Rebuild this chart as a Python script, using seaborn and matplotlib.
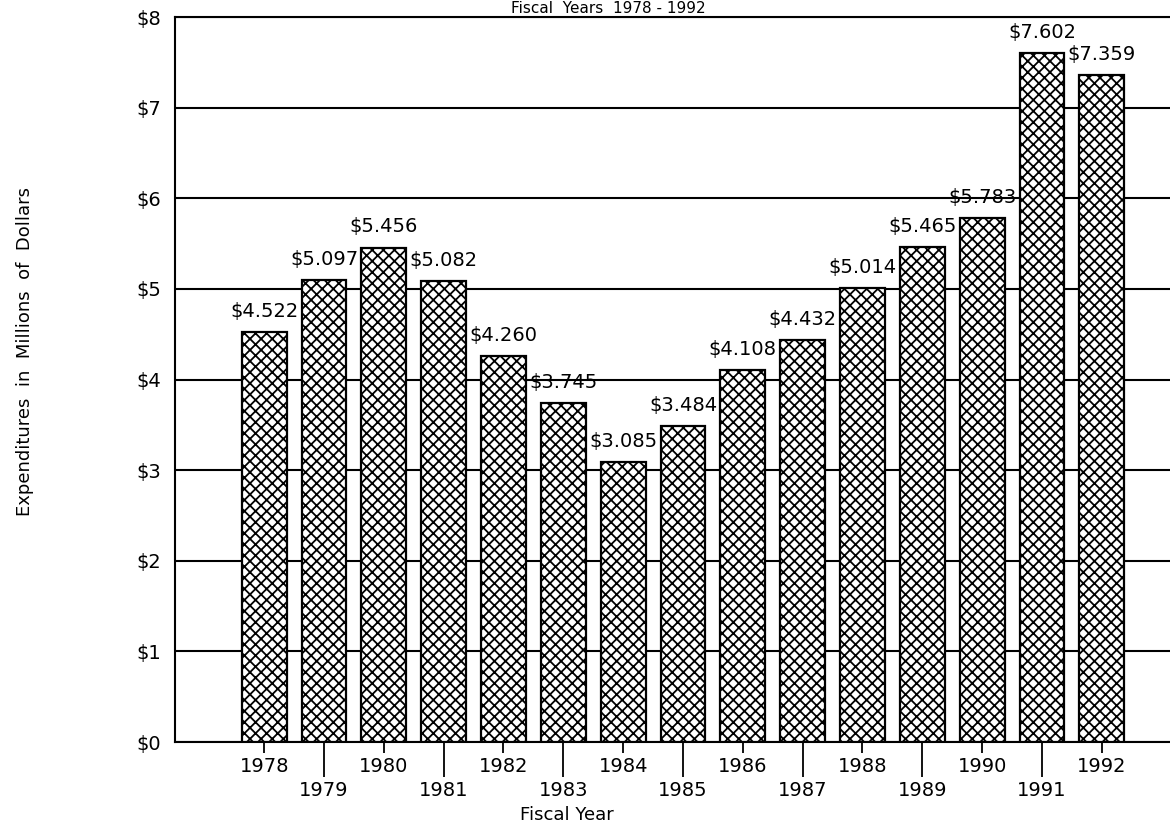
import matplotlib
matplotlib.use('Agg')
import matplotlib.pyplot as plt
import seaborn as sns
import pandas as pd

years = [1978, 1979, 1980, 1981, 1982, 1983, 1984, 1985,
         1986, 1987, 1988, 1989, 1990, 1991, 1992]
spending = [4.522, 5.097, 5.456, 5.082, 4.260, 3.745, 3.085, 3.484,
            4.108, 4.432, 5.014, 5.465, 5.783, 7.602, 7.359]
y_ticks = [0, 1, 2, 3, 4, 5, 6, 7, 8]

df = pd.DataFrame({'Year': [str(y) for y in years], 'Spending': spending})

sns.set_style('white')
plt.rcParams['font.family'] = ['DejaVu Sans']
plt.rcParams['text.color'] = 'black'
plt.rcParams['xtick.color'] = 'black'
plt.rcParams['ytick.color'] = 'black'
plt.rcParams['hatch.linewidth'] = 1.3
plt.rcParams['hatch.color'] = 'black'

fig = plt.figure(figsize=(11.7, 8.23), dpi=100)
ax = fig.add_axes([0.1496, 0.0984, 0.8504, 0.8809])

sns.barplot(data=df, x='Year', y='Spending', color='white', edgecolor='black',
            linewidth=1.6, width=0.75, saturation=1, ax=ax, zorder=3)
for p in ax.patches:
    p.set_hatch('xxx')
    p.set_facecolor('white')

ax.bar_label(ax.containers[0], labels=['${:.3f}'.format(v) for v in spending],
             padding=8, fontsize=14, color='black', zorder=4)

# y axis
ax.set_ylim(0, 8)
ax.set_yticks(y_ticks, labels=['${}'.format(t) for t in y_ticks], fontsize=14)
ax.tick_params(axis='y', length=0, pad=10)
ax.yaxis.grid(True, color='black', linewidth=1.5)
ax.set_axisbelow(True)

# staggered x tick labels: even years close, odd years lower with long ticks
pos = list(range(len(years)))
ax.set_xticks(pos[0::2], labels=[str(y) for y in years[0::2]], fontsize=14)
ax.set_xticks(pos[1::2], labels=[str(y) for y in years[1::2]], fontsize=14, minor=True)
ax.tick_params(axis='x', which='major', length=8, width=1.3, pad=3, direction='out', bottom=True)
ax.tick_params(axis='x', which='minor', length=25, width=1.3, pad=3, direction='out', bottom=True)
ax.set_xlim(-1.49, 15.14)
ax.set_xlabel('')
ax.set_ylabel('')

for s in ['left', 'bottom', 'top']:
    ax.spines[s].set_color('black')
    ax.spines[s].set_linewidth(1.5)
ax.spines['right'].set_visible(False)

fig.text(567 / 1170, 1 - 815 / 823, 'Fiscal Year', ha='center', va='center', fontsize=13)
fig.text(25 / 1170, 1 - 352 / 823, 'Expenditures  in  Millions  of  Dollars',
         rotation=90, ha='center', va='center', fontsize=13)
fig.text(608 / 1170, 1 - 1 / 823, 'Fiscal  Years  1978 - 1992', ha='center',
         va='top', fontsize=11)

fig.savefig('out.png', dpi=100)
